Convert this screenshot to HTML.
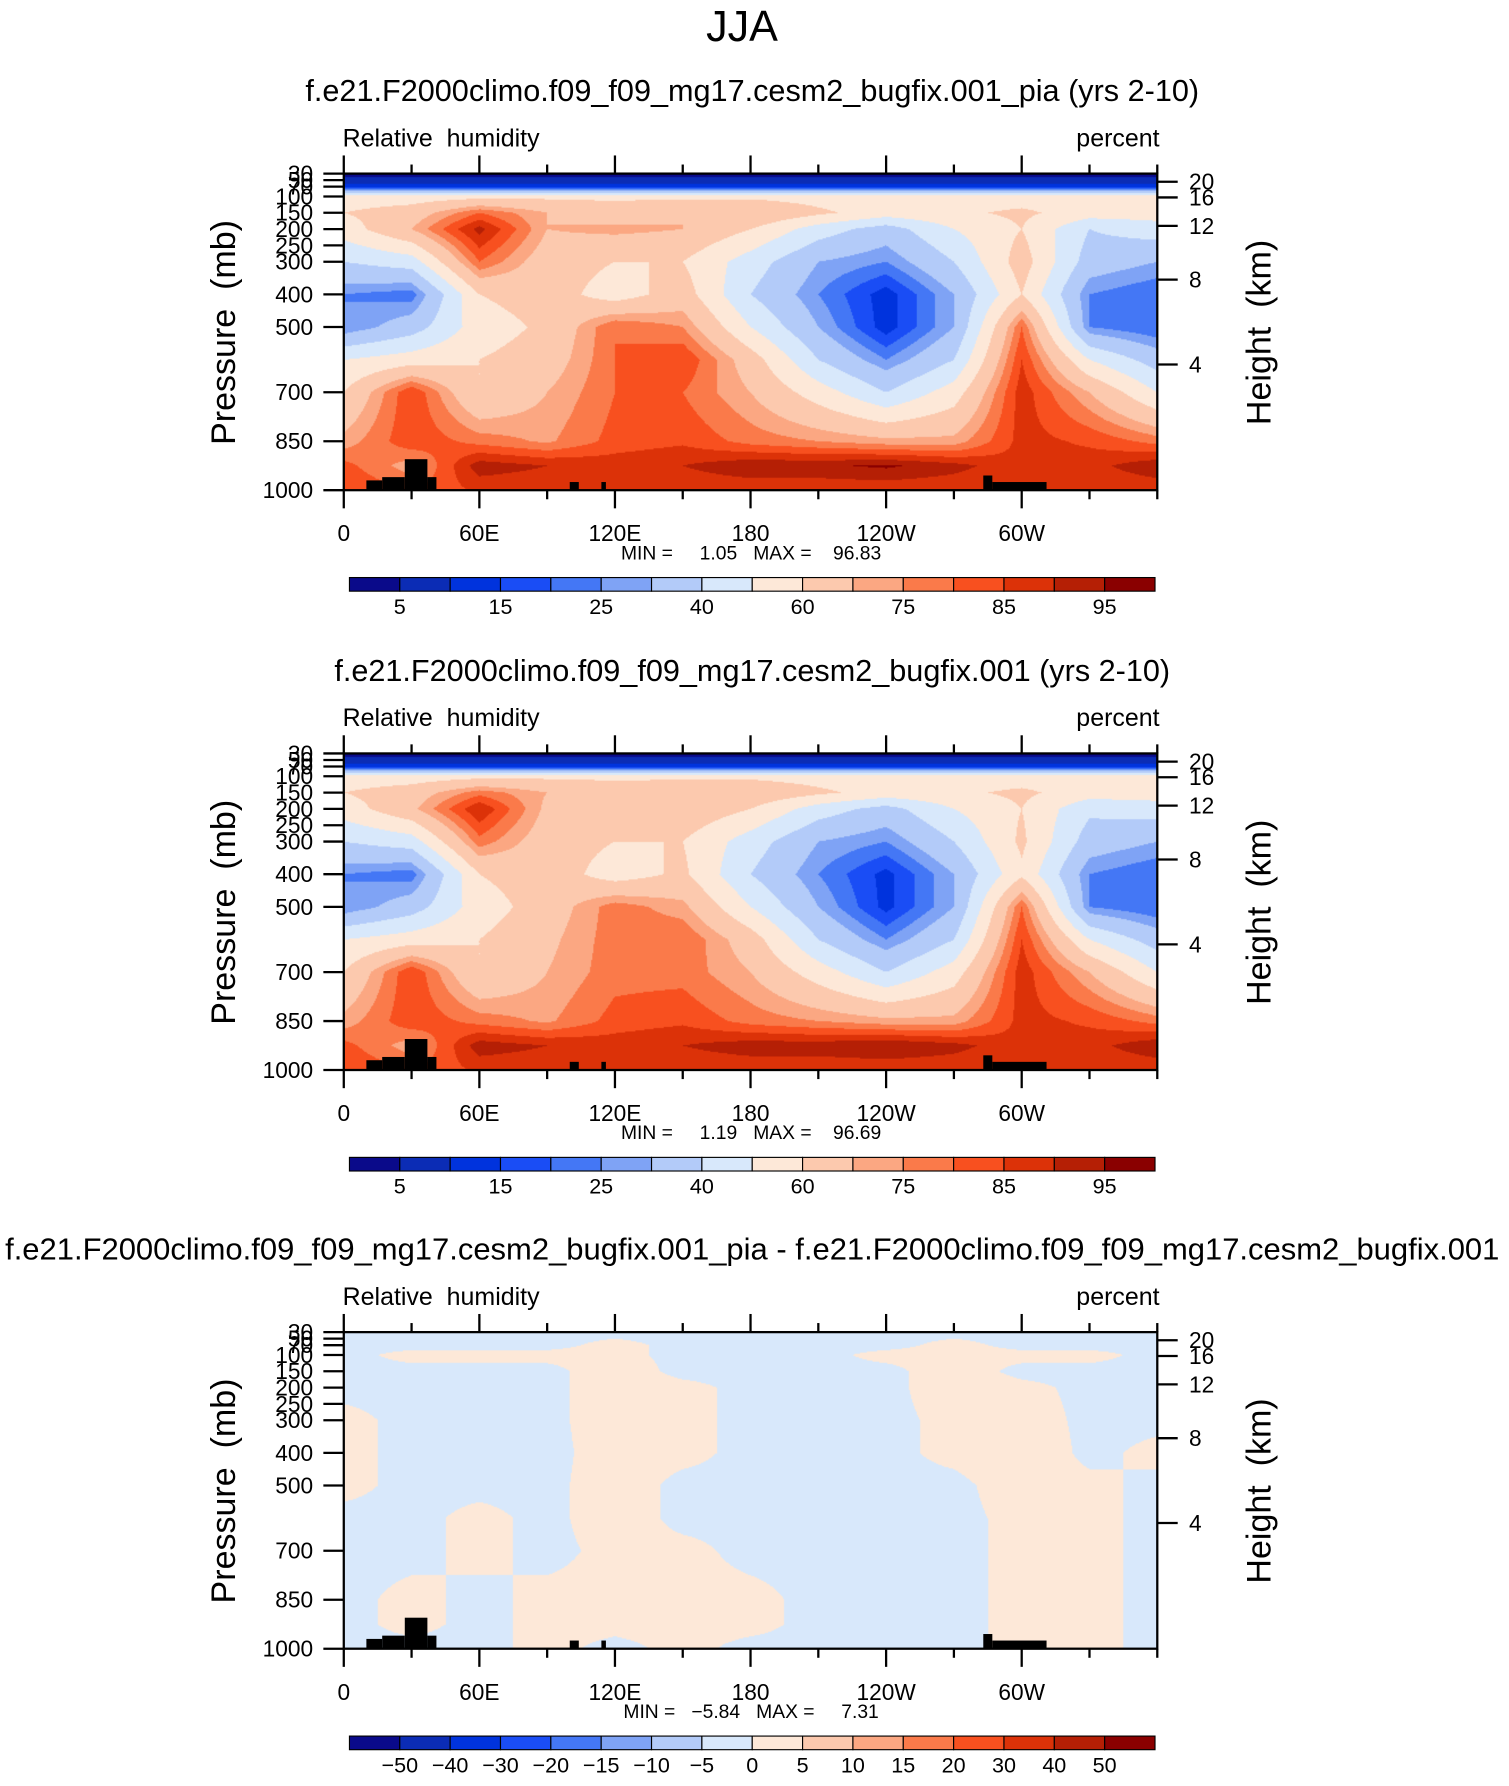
<!DOCTYPE html>
<html><head><meta charset="utf-8"><style>
html,body{margin:0;padding:0;background:#fff;width:1509px;height:1786px;overflow:hidden}
#root{position:absolute;left:0;top:0;width:1330px;height:1574px;transform:scale(1.13459,1.13469);transform-origin:0 0;font-family:"Liberation Sans",sans-serif}
canvas{position:absolute}
svg{position:absolute;left:0;top:0}
text{white-space:pre}
</style></head><body>
<div id="root">
<svg id="ov" width="1330" height="1574" viewBox="0 0 1330 1574"></svg>
</div>
<script>
const lonGrid=[0,30,60,90,120,150,180,210,240,270,300,330,360];
const presGrid=[30,70,100,150,200,300,400,500,600,700,850,925,1000];
const rh1=[
[2,2,2,2,2,2,2,2,2,2,2,2,2],
[12,12,12,12,12,12,12,12,12,12,12,12,12],
[55,55,57,58,58,58,58,56,55,55,55,55,55],
[60,65,80,70,65,70,70,62,55,58,62,55,55],
[55,70,92,70,72,70,60,45,35,50,60,40,45],
[40,45,80,65,60,60,45,30,25,40,65,35,30],
[25,22,60,65,55,65,40,25,12,30,60,25,20],
[25,35,55,62,80,75,50,30,12,30,80,25,20],
[50,55,60,65,80,85,65,40,25,40,85,50,35],
[60,85,60,70,80,80,70,55,40,55,88,70,50],
[72,84,78,74,82,84,78,75,72,72,87,84,78],
[82,72,93,90,88,90,94,94,96,92,86,88,94],
[85,80,86,86,86,86,86,86,86,86,86,86,86]];
const rh2=[
[2,2,2,2,2,2,2,2,2,2,2,2,2],
[12,12,12,12,12,12,12,12,12,12,12,12,12],
[55,55,57,58,58,58,58,56,55,55,55,55,55],
[60,65,78,70,65,68,68,62,56,58,62,55,55],
[55,68,90,68,68,68,60,45,36,50,60,42,45],
[40,45,78,65,60,60,45,30,25,40,62,35,30],
[25,22,60,66,55,62,40,25,13,30,58,25,20],
[25,35,55,65,78,72,50,30,13,30,80,25,20],
[50,55,60,68,78,80,65,40,25,40,85,50,35],
[60,85,60,70,78,78,70,55,40,55,88,70,50],
[72,84,78,74,82,84,78,75,72,72,87,84,78],
[82,72,93,90,88,90,93,93,95,92,86,88,94],
[85,80,86,86,86,86,86,86,86,86,86,86,86]];
const rhDiff=[
[-1,-1,-1,-1,-1,-1,-1,-1,-1,-1,-1,-1,-1],
[-1,-1,-1,-1,1,-1,-1,-1,-1,1,-1,-1,-1],
[-1,1,1,1,1,-1,-1,-1,1,1,1,1,-1],
[-1,-1,-1,-1,2,-1,-1,-1,-1,2,-1,-1,-1],
[-1,-1,-1,-1,2,1,-1,-1,-1,2,1,-1,-1],
[1,-1,-1,-1,2,1,-1,-1,-1,1,2,-1,-1],
[1,-1,-1,-1,1.5,1,-1,-1,-1,1,3,-1,1],
[1,-1,-1,-1,2,-1,-1,-1,-1,-1,2,1,-1],
[-1,-1,1,-1,2,-1,-1,-1,-1,-1,1,1,-1],
[-1,-1,1,-1,1,1,-1,-1,-1,-1,1,1,-1],
[-1,1,-1,1,1,1,1,-1,-1,-1,1,1,-1],
[-1,1,-1,1,1,1,1,-1,-1,-1,1,1,-1],
[-1,-1,-1,1,-1,1,-1,-1,-1,-1,1,1,-1]];
const levelsRH=[5,10,15,20,25,30,40,50,60,70,75,80,85,90,95];
const labelsRH=["5","15","25","40","60","75","85","95"];
const levelsDiff=[-50,-40,-30,-20,-15,-10,-5,0,5,10,15,20,30,40,50];
const labelsDiff=["\u221250","\u221240","\u221230","\u221220","\u221215","\u221210","\u22125","0","5","10","15","20","30","40","50"];
const topoLonStart=[10,17,27,37,100,114,283,287];
const topoLonEnd=[17,27,37,41,104,116,287,311];
const topoPres=[970,960,905,960,975,975,955,975];
const palette=["#0a0a8a","#0b2cb5","#0033dd","#1a4df5","#4477f5","#7fa3f5","#b3cbf9","#d8e8fb","#fde8d8","#fcc9ae","#fba782","#fa7a4a","#f8501f","#dc3208","#b51f05","#8a0000"];
const lonTicks=[0,60,120,180,240,300];
const lonLabels=["0","60E","120E","180","120W","60W"];
const presTicks=[30,50,70,100,150,200,250,300,400,500,700,850,1000];
const heightTicks=[20,16,12,8,4];
const heightPres=[55,103,190,355,615];

const PL=303,PR=1020,PH=279;
const xOf=l=>PL+(l/360)*(PR-PL);
const yOf=(p,top)=>top+PH-(1000-p)/970*PH;
const NS="http://www.w3.org/2000/svg";
const ov=document.getElementById('ov');
function mk(tag,attrs,parent){const e=document.createElementNS(NS,tag);for(const k in attrs)e.setAttribute(k,attrs[k]);(parent||ov).appendChild(e);return e;}
function txt(s,x,y,size,anchor,parent){const t=mk('text',{x:x,y:y,'font-size':size,'text-anchor':anchor||'start','font-family':'Liberation Sans, sans-serif',fill:'#000'},parent);t.textContent=s;return t;}

function sample(grid,lon,p){
  let i=0;while(i<lonGrid.length-2&&lon>lonGrid[i+1])i++;
  let j=0;while(j<presGrid.length-2&&p>presGrid[j+1])j++;
  const fx=(lon-lonGrid[i])/(lonGrid[i+1]-lonGrid[i]);
  const fy=(p-presGrid[j])/(presGrid[j+1]-presGrid[j]);
  const a=grid[j][i],b=grid[j][i+1],c=grid[j+1][i],d=grid[j+1][i+1];
  return (a*(1-fx)+b*fx)*(1-fy)+(c*(1-fx)+d*fx)*fy;
}
function colorIdx(v,levels){let k=0;while(k<levels.length&&v>=levels[k])k++;return k;}

function panel(top,title,grid,levels,labels,minmax,titleSize){
  const g=mk('g',{});
  
  
  const t=txt(title,663,top-64,titleSize,'middle',g);
  
  
  const l1=txt('Relative  humidity',302,top-24,22,'start',g);
  
  
  const l2=txt('percent',1022,top-24,22,'end',g);
  
  
  const cv=document.createElement('canvas');
  cv.width=717;cv.height=279;
  cv.style.left=PL+'px';cv.style.top=top+'px';cv.style.width='717px';cv.style.height='279px';
  
  
  document.getElementById('root').insertBefore(cv,ov);
  const ctx=cv.getContext('2d');const img=ctx.createImageData(717,279);
  const rgb=palette.map(h=>[parseInt(h.substr(1,2),16),parseInt(h.substr(3,2),16),parseInt(h.substr(5,2),16)]);
  for(let y=0;y<279;y++){const p=1000-(279-y-0.5)/279*970;
    for(let x=0;x<717;x++){const lon=(x+0.5)/717*360;
      const v=sample(grid,lon,p);
      const c=rgb[colorIdx(v,levels)];const o=(y*717+x)*4;
      img.data[o]=c[0];img.data[o+1]=c[1];img.data[o+2]=c[2];img.data[o+3]=255;}}
  ctx.putImageData(img,0,0);
  for(let k=0;k<topoLonStart.length;k++){
    const r=mk('rect',{x:xOf(topoLonStart[k]),y:yOf(topoPres[k],top),width:xOf(topoLonEnd[k])-xOf(topoLonStart[k]),height:yOf(1000,top)-yOf(topoPres[k],top),fill:'#000'},g);
    
    
  }
  const fr=mk('rect',{x:PL,y:top,width:PR-PL,height:PH,fill:'none',stroke:'#000','stroke-width':2},g);
  
  
  for(let l=0;l<=360;l+=30){const maj=l%60===0&&l<360;const len=maj?16:8;const x=xOf(l);
    mk('line',{x1:x,x2:x,y1:top,y2:top-len,stroke:'#000','stroke-width':2},g);
    mk('line',{x1:x,x2:x,y1:top+PH,y2:top+PH+len,stroke:'#000','stroke-width':2},g);}
  lonTicks.forEach((l,k)=>{const t=txt(lonLabels[k],xOf(l),top+PH+45,20,'middle',g);
    
    });
  presTicks.forEach(p=>{const y=yOf(p,top);
    mk('line',{x1:PL,x2:PL-18,y1:y,y2:y,stroke:'#000','stroke-width':2},g);
    const t=txt(String(p),276,y+7,20,'end',g);
    
    });
  heightTicks.forEach((h,k)=>{const y=yOf(heightPres[k],top);
    mk('line',{x1:PR,x2:PR+18,y1:y,y2:y,stroke:'#000','stroke-width':2},g);
    const t=txt(String(h),1048,y+7,20,'start',g);
    
    });
  const ya=txt('Pressure  (mb)',0,0,30,'middle',g);
  ya.setAttribute('transform','translate(207,'+(top+140)+') rotate(-90)');
  
  
  const ya2=txt('Height  (km)',0,0,30,'middle',g);
  ya2.setAttribute('transform','translate(1120,'+(top+140)+') rotate(-90)');
  
  
  const mm=txt(minmax,662,top+340,17,'middle',g);
  
  
  const cbY=top+356,cbL=308,cbW=(1018-308)/16;
  for(let k=0;k<16;k++){const r=mk('rect',{x:cbL+k*cbW,y:cbY,width:cbW,height:12,fill:palette[k],stroke:'#000','stroke-width':1},g);
    
    }
  const step=labels.length===levels.length?1:2;
  labels.forEach((s,k)=>{const t=txt(s,cbL+(k*step+1)*cbW,cbY+32,19,'middle',g);
    
    });
}
const jja=txt('JJA',654,36,38,'middle');


panel(153,'f.e21.F2000climo.f09_f09_mg17.cesm2_bugfix.001_pia (yrs 2-10)',rh1,levelsRH,labelsRH,'MIN =     1.05   MAX =    96.83',27);
panel(664,'f.e21.F2000climo.f09_f09_mg17.cesm2_bugfix.001 (yrs 2-10)',rh2,levelsRH,labelsRH,'MIN =     1.19   MAX =    96.69',27);
panel(1174,'f.e21.F2000climo.f09_f09_mg17.cesm2_bugfix.001_pia - f.e21.F2000climo.f09_f09_mg17.cesm2_bugfix.001',rhDiff,levelsDiff,labelsDiff,'MIN =   \u22125.84   MAX =     7.31',27.3);
</script>
</body></html>
